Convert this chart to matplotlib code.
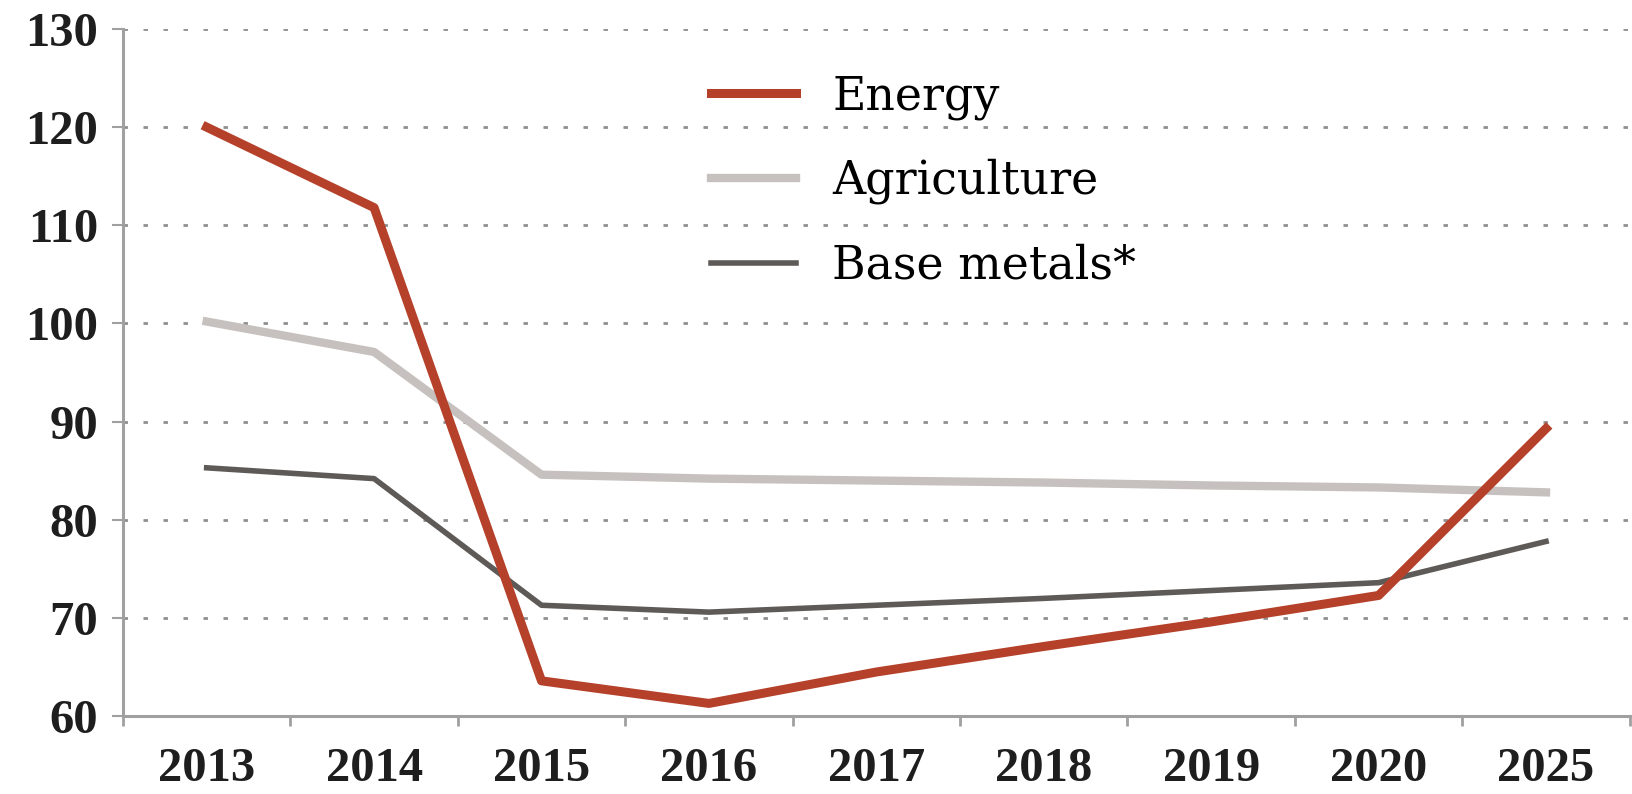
import numpy as np
import matplotlib
matplotlib.use('Agg')
import matplotlib.pyplot as plt

years = ['2013', '2014', '2015', '2016', '2017', '2018', '2019', '2020', '2025']
energy = [120.0, 111.8, 63.6, 61.3, 64.5, 67.1, 69.6, 72.3, 89.3]
agriculture = [100.2, 97.1, 84.6, 84.2, 84.0, 83.8, 83.5, 83.3, 82.8]
base_metals = [85.3, 84.2, 71.3, 70.6, 71.3, 72.0, 72.8, 73.6, 77.8]

plt.rcParams['font.family'] = ['DejaVu Serif']

fig = plt.figure(figsize=(16.33, 7.94), dpi=100)
ax = fig.add_axes([0.0753, 0.098, 0.9227, 0.8655])

x = np.arange(len(years))
ax.plot(x, energy, color='#b5412b', lw=6.5, label='Energy', zorder=3)
ax.plot(x, agriculture, color='#c6c1be', lw=6.0, label='Agriculture', zorder=2)
ax.plot(x, base_metals, color='#5e5a58', lw=4.0, label='Base metals*', zorder=2)

ax.set_xlim(-0.5, len(years) - 0.5)
ax.set_ylim(60, 130)
ax.set_yticks(range(60, 131, 10))
ax.set_xticks(x)
ax.set_xticklabels(years)
ax.set_xticks(np.arange(-0.5, len(years)), minor=True)

ax.grid(axis='y', color='#8f8f8f', lw=2.0, linestyle=(0, (1.6, 5.6)))
ax.set_axisbelow(True)

for s in ['top', 'right']:
    ax.spines[s].set_visible(False)
for s in ['left', 'bottom']:
    ax.spines[s].set_color('#a0a0a0')
    ax.spines[s].set_linewidth(2.2)

tick_font = {'family': 'Liberation Serif', 'weight': 'bold', 'size': 35}
ax.tick_params(axis='y', length=8, width=1.5, color='#a0a0a0', pad=10,
               labelcolor='#1e1e1e')
ax.tick_params(axis='x', which='major', length=0, pad=22, labelcolor='#1e1e1e')
ax.tick_params(axis='x', which='minor', length=7, width=2, color='#a0a0a0')
for lab in ax.get_xticklabels() + ax.get_yticklabels():
    lab.set_fontproperties(tick_font)

ax.legend(loc='upper left', bbox_to_anchor=(0.375, 0.968), frameon=False,
          fontsize=33, handlelength=1.85, handletextpad=0.8, labelspacing=0.85,
          borderpad=0)

fig.savefig('out.png', dpi=100)
